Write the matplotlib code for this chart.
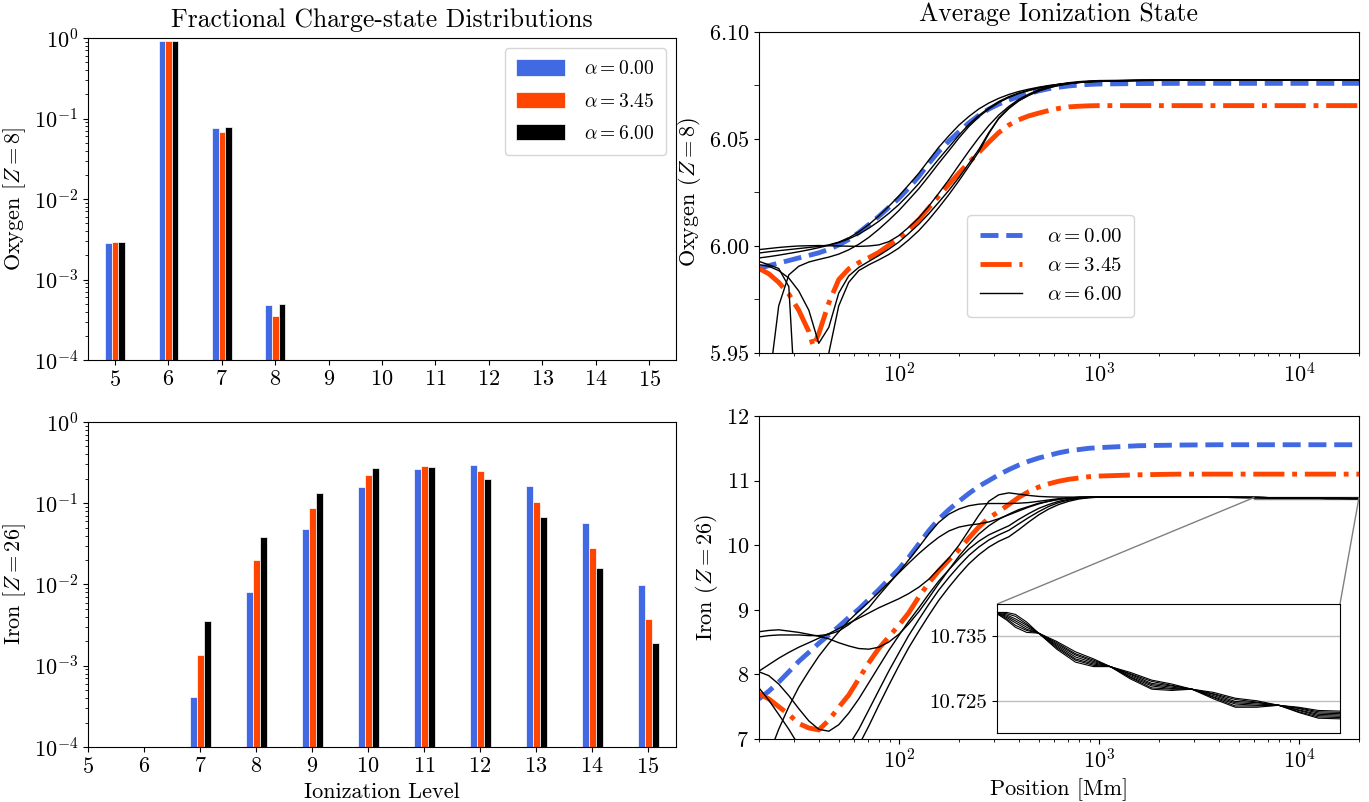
import matplotlib
matplotlib.use("Agg")
import matplotlib.pyplot as plt
from matplotlib.ticker import MultipleLocator, NullLocator, FixedLocator, FixedFormatter
from mpl_toolkits.axes_grid1.inset_locator import mark_inset

plt.rcParams['font.family'] = 'serif'
plt.rcParams['font.serif'] = ['cmr10']
plt.rcParams['mathtext.fontset'] = 'cm'
plt.rcParams['axes.formatter.use_mathtext'] = True

# --- charge-state fractions (ionization levels 5..15) ---
levels = [5, 6, 7, 8, 9, 10, 11, 12, 13, 14, 15]
o_frac_a0 = [2.85e-3, 0.927, 0.076, 4.8e-4, 0, 0, 0, 0, 0, 0, 0]
o_frac_a345 = [2.93e-3, 0.927, 0.068, 3.5e-4, 0, 0, 0, 0, 0, 0, 0]
o_frac_a6 = [2.93e-3, 0.927, 0.078, 4.9e-4, 0, 0, 0, 0, 0, 0, 0]
fe_frac_a0 = [0, 0, 4.1e-4, 8.0e-3, 0.0477, 0.157, 0.261, 0.293, 0.162, 0.0566, 0.0098]
fe_frac_a345 = [0, 0, 1.34e-3, 0.0198, 0.0866, 0.221, 0.285, 0.247, 0.103, 0.0279, 0.00373]
fe_frac_a6 = [0, 0, 3.6e-3, 0.038, 0.132, 0.269, 0.277, 0.197, 0.067, 0.0158, 0.00189]

alpha_labels = [r'$\alpha = 0.00$', r'$\alpha = 3.45$', r'$\alpha = 6.00$']
colors = ['royalblue', 'orangered', 'black']

# --- positions [Mm] ---
grid_x = [20, 22.4, 25.1, 28.2, 31.6, 35.5, 39.8, 44.7, 50.1, 56.2, 63.1, 70.8, 79.4,
          89.1, 100, 112, 126, 141, 158, 178, 200, 224, 251, 282, 316, 355, 398, 447,
          501, 562, 631, 708, 794, 891, 1000, 1585, 2512, 3981]
far_x = [10000, 20000]
tail_x = [6000, 6210, 6400, 6660, 6940, 7400, 7900, 8420, 8930, 9580, 10330, 11080,
          11890, 12830, 13850, 14940, 16130, 17290, 18540, 20000]
o_orange_x = [20, 22.4, 25.1, 28.2, 31.6, 35.5, 37.4, 39.8, 44.7, 50.1, 56.2, 63.1, 70.8,
              79.4, 89.1, 100, 112, 126, 141, 158, 178, 200, 224, 251, 282, 316, 355,
              398, 447, 501, 562, 631, 708, 794, 891, 1000, 1585, 2512, 3981, 10000, 20000]

# --- oxygen average ionization state ---
o_avg_a0 = [5.9895, 5.9908, 5.9920, 5.9932, 5.9944, 5.9956, 5.9968, 5.9984, 6.0005, 6.0030,
            6.0063, 6.0100, 6.0138, 6.0180, 6.0222, 6.0270, 6.0325, 6.0385, 6.0440, 6.0490,
            6.0534, 6.0575, 6.0610, 6.0640, 6.0663, 6.0682, 6.0698, 6.0712, 6.0725, 6.0735,
            6.0742, 6.0748, 6.0752, 6.0755, 6.0757, 6.0759, 6.0760, 6.0760, 6.0760, 6.0760]
o_avg_a345 = [5.9895, 5.9870, 5.9830, 5.9775, 5.9700, 5.9600, 5.9531, 5.9590, 5.9734, 5.9843,
              5.9893, 5.9922, 5.9945, 5.9970, 6.0003, 6.0035, 6.0077, 6.0123, 6.0177, 6.0232,
              6.0288, 6.0341, 6.0390, 6.0437, 6.0485, 6.0530, 6.0565, 6.0590, 6.0608, 6.0621,
              6.0633, 6.0643, 6.0650, 6.0653, 6.0655, 6.0656, 6.0656, 6.0656, 6.0656, 6.0656,
              6.0656]
o_avg_a6 = [
    [5.9983, 5.9988, 5.9993, 5.9997, 6.0000, 6.0001, 6.0002, 6.0001, 6.0000, 5.9999,
     5.9998, 6.0000, 6.0005, 6.0020, 6.0048, 6.0087, 6.0132, 6.0185, 6.0245, 6.0310,
     6.0378, 6.0443, 6.0505, 6.0563, 6.0612, 6.0652, 6.0685, 6.0710, 6.0730, 6.0745,
     6.0756, 6.0763, 6.0768, 6.0771, 6.0773, 6.0775, 6.0776, 6.0776, 6.0776, 6.0776],
    [5.9967, 5.9973, 5.9978, 5.9983, 5.9988, 5.9993, 5.9998, 6.0005, 6.0018, 6.0038,
     6.0066, 6.0100, 6.0140, 6.0185, 6.0233, 6.0285, 6.0340, 6.0400, 6.0460, 6.0515,
     6.0565, 6.0605, 6.0640, 6.0668, 6.0690, 6.0708, 6.0722, 6.0733, 6.0742, 6.0750,
     6.0756, 6.0761, 6.0765, 6.0768, 6.0770, 6.0774, 6.0776, 6.0776, 6.0776, 6.0776],
    [5.9944, 5.9950, 5.9957, 5.9965, 5.9973, 5.9982, 5.9992, 6.0003, 6.0016, 6.0033,
     6.0055, 6.0083, 6.0115, 6.0152, 6.0193, 6.0240, 6.0292, 6.0348, 6.0405, 6.0462,
     6.0518, 6.0568, 6.0610, 6.0645, 6.0675, 6.0698, 6.0715, 6.0728, 6.0740, 6.0748,
     6.0755, 6.0760, 6.0764, 6.0767, 6.0769, 6.0773, 6.0775, 6.0776, 6.0776, 6.0776],
    [5.9000, 5.9350, 5.9720, 5.9865, 5.9905, 5.9925, 5.9937, 5.9948, 5.9962, 5.9982,
     6.0008, 6.0040, 6.0078, 6.0120, 6.0165, 6.0215, 6.0268, 6.0325, 6.0385, 6.0445,
     6.0505, 6.0558, 6.0603, 6.0640, 6.0670, 6.0694, 6.0712, 6.0726, 6.0738, 6.0747,
     6.0754, 6.0760, 6.0764, 6.0767, 6.0769, 6.0773, 6.0775, 6.0776, 6.0776, 6.0776],
    [5.9928, 5.9912, 5.9895, 5.9810, 5.9000, 5.8800, 5.9100, 5.9500, 5.9720, 5.9830,
     5.9885, 5.9912, 5.9935, 5.9960, 5.9990, 6.0028, 6.0072, 6.0122, 6.0178, 6.0240,
     6.0305, 6.0372, 6.0440, 6.0525, 6.0598, 6.0645, 6.0680, 6.0705, 6.0725, 6.0740,
     6.0751, 6.0759, 6.0765, 6.0769, 6.0771, 6.0774, 6.0776, 6.0776, 6.0776, 6.0776],
    [5.9913, 5.9905, 5.9885, 5.9850, 5.9790, 5.9700, 5.9545, 5.9620, 5.9780, 5.9860,
     5.9900, 5.9928, 5.9955, 5.9985, 6.0018, 6.0058, 6.0102, 6.0150, 6.0203, 6.0260,
     6.0320, 6.0385, 6.0450, 6.0530, 6.0595, 6.0642, 6.0678, 6.0704, 6.0724, 6.0739,
     6.0750, 6.0758, 6.0764, 6.0768, 6.0771, 6.0774, 6.0776, 6.0776, 6.0776, 6.0776],
]

# --- iron average ionization state ---
fe_avg_a0 = [7.62, 7.74, 7.88, 8.04, 8.20, 8.34, 8.48, 8.61, 8.74, 8.88, 9.01, 9.16, 9.31,
             9.47, 9.63, 9.81, 10.02, 10.22, 10.40, 10.55, 10.68, 10.80, 10.91, 11.00,
             11.09, 11.17, 11.24, 11.30, 11.35, 11.39, 11.43, 11.46, 11.48, 11.50, 11.51,
             11.54, 11.55, 11.555, 11.555, 11.555]
fe_avg_a345 = [7.70, 7.62, 7.50, 7.38, 7.24, 7.17, 7.14, 7.29, 7.49, 7.68, 7.93, 8.18, 8.40,
               8.58, 8.76, 8.95, 9.20, 9.41, 9.60, 9.77, 9.93, 10.11, 10.28, 10.42, 10.52,
               10.63, 10.74, 10.83, 10.90, 10.95, 10.99, 11.02, 11.04, 11.06, 11.07, 11.09,
               11.10, 11.10, 11.10, 11.10]
fe_avg_a6 = [
    [8.05, 8.15, 8.25, 8.34, 8.42, 8.49, 8.56, 8.63, 8.71, 8.79, 8.87, 8.95, 9.03, 9.10,
     9.17, 9.25, 9.35, 9.47, 9.63, 9.80, 10.00, 10.23, 10.46, 10.68, 10.78, 10.81, 10.79,
     10.77, 10.755, 10.748, 10.745, 10.744, 10.744, 10.745, 10.746, 10.747, 10.745, 10.742,
     10.7385, 10.7375, 10.7364, 10.7356, 10.7355, 10.7342, 10.7326, 10.7315, 10.7303,
     10.7284, 10.7268, 10.7266, 10.7268, 10.7263, 10.7254, 10.7250, 10.7243, 10.7232,
     10.7223, 10.7222],
    [8.58, 8.60, 8.61, 8.61, 8.61, 8.60, 8.60, 8.62, 8.67, 8.77, 8.90, 9.03, 9.22, 9.40,
     9.58, 9.77, 9.97, 10.17, 10.35, 10.48, 10.56, 10.61, 10.635, 10.645, 10.645, 10.645,
     10.65, 10.66, 10.68, 10.70, 10.72, 10.73, 10.74, 10.743, 10.745, 10.747, 10.745, 10.742,
     10.7385, 10.7377, 10.7367, 10.7359, 10.7355, 10.7340, 10.7323, 10.7313, 10.7303,
     10.7286, 10.7270, 10.7268, 10.7268, 10.7261, 10.7252, 10.7248, 10.7243, 10.7233,
     10.7225, 10.7224],
    [8.66, 8.68, 8.69, 8.67, 8.65, 8.62, 8.59, 8.55, 8.49, 8.44, 8.40, 8.39, 8.42, 8.50,
     8.62, 8.78, 8.97, 9.18, 9.40, 9.62, 9.83, 10.01, 10.17, 10.30, 10.40, 10.48, 10.55,
     10.60, 10.65, 10.68, 10.71, 10.73, 10.74, 10.743, 10.745, 10.747, 10.745, 10.742,
     10.7386, 10.7379, 10.7371, 10.7361, 10.7355, 10.7338, 10.7321, 10.7311, 10.7303,
     10.7287, 10.7273, 10.7269, 10.7268, 10.7260, 10.7249, 10.7247, 10.7243, 10.7235,
     10.7227, 10.7226],
    [6.30, 6.75, 7.15, 7.50, 7.80, 8.05, 8.28, 8.48, 8.66, 8.83, 8.98, 9.12, 9.27, 9.42,
     9.57, 9.72, 9.87, 10.00, 10.12, 10.22, 10.28, 10.31, 10.33, 10.36, 10.41, 10.47, 10.53,
     10.59, 10.64, 10.68, 10.71, 10.73, 10.74, 10.744, 10.745, 10.747, 10.745, 10.742,
     10.7386, 10.7381, 10.7374, 10.7364, 10.7355, 10.7336, 10.7318, 10.7309, 10.7303,
     10.7289, 10.7275, 10.7271, 10.7268, 10.7258, 10.7247, 10.7245, 10.7243, 10.7236,
     10.7229, 10.7228],
    [8.04, 7.98, 7.85, 7.67, 7.47, 7.28, 7.15, 7.12, 7.22, 7.40, 7.62, 7.87, 8.12, 8.37,
     8.60, 8.82, 9.03, 9.24, 9.44, 9.62, 9.79, 9.94, 10.06, 10.16, 10.23, 10.30, 10.40,
     10.49, 10.57, 10.63, 10.68, 10.71, 10.73, 10.74, 10.745, 10.747, 10.745, 10.742,
     10.7386, 10.7383, 10.7377, 10.7367, 10.7355, 10.7334, 10.7315, 10.7307, 10.7303,
     10.7291, 10.7277, 10.7273, 10.7268, 10.7256, 10.7245, 10.7243, 10.7243, 10.7238,
     10.7231, 10.7230],
    [7.79, 7.60, 7.38, 7.15, 6.90, 6.70, 6.60, 6.60, 6.65, 6.90, 7.15, 7.45, 7.75, 8.05,
     8.33, 8.60, 8.85, 9.08, 9.30, 9.50, 9.68, 9.84, 9.97, 10.08, 10.16, 10.23, 10.33,
     10.43, 10.52, 10.60, 10.66, 10.70, 10.725, 10.738, 10.744, 10.747, 10.745, 10.742,
     10.7387, 10.7385, 10.7381, 10.7369, 10.7355, 10.7332, 10.7313, 10.7305, 10.7303,
     10.7292, 10.7280, 10.7274, 10.7268, 10.7255, 10.7242, 10.7242, 10.7243, 10.7239,
     10.7233, 10.7232],
    [6.00, 6.10, 6.20, 6.30, 6.40, 6.50, 6.60, 6.68, 6.75, 6.82, 6.90, 7.20, 7.52, 7.83,
     8.13, 8.41, 8.67, 8.91, 9.14, 9.35, 9.54, 9.71, 9.85, 9.97, 10.06, 10.13, 10.24,
     10.36, 10.47, 10.56, 10.63, 10.68, 10.715, 10.735, 10.743, 10.747, 10.745, 10.742,
     10.7387, 10.7387, 10.7384, 10.7372, 10.7355, 10.7330, 10.7310, 10.7303, 10.7303,
     10.7294, 10.7282, 10.7276, 10.7268, 10.7253, 10.7240, 10.7240, 10.7243, 10.7240,
     10.7235, 10.7234],
]

fig = plt.figure(figsize=(13.69, 8.02), dpi=100)
ax_o = fig.add_axes([0.0643, 0.5511, 0.4295, 0.4015])
ax_fe = fig.add_axes([0.0643, 0.0686, 0.4295, 0.4052])
ax_oa = fig.add_axes([0.5544, 0.5599, 0.4383, 0.4002])
ax_fa = fig.add_axes([0.5544, 0.0786, 0.4383, 0.4027])
axins = fig.add_axes([0.7283, 0.0860, 0.2505, 0.1608])

TICK = 16
LABEL = 16

# bar charts
offsets = [-0.12, 0.005, 0.13]
for ax, series in [(ax_o, [o_frac_a0, o_frac_a345, o_frac_a6]),
                   (ax_fe, [fe_frac_a0, fe_frac_a345, fe_frac_a6])]:
    ax.set_yscale('log')
    for k, vals in enumerate(series):
        xs = [lv + offsets[k] for lv, v in zip(levels, vals) if v > 0]
        ys = [v for v in vals if v > 0]
        ax.bar(xs, ys, width=0.122, color=colors[k], edgecolor='white',
               linewidth=0.5, label=alpha_labels[k])
    ax.set_ylim(1e-4, 1)
    ax.set_xticks(levels)
    ax.tick_params(labelsize=TICK)

ax_o.set_xlim(4.5, 15.5)
ax_fe.set_xlim(5, 15.5)
ax_o.set_ylabel(r'Oxygen [$Z = 8$]', fontsize=LABEL)
ax_fe.set_ylabel(r'Iron [$Z = 26$]', fontsize=LABEL)
ax_fe.set_xlabel('Ionization Level', fontsize=LABEL)
ax_o.set_title('Fractional Charge-state Distributions', fontsize=18.5, pad=8)
ax_o.legend(loc='upper right', fontsize=14, handlelength=2.5, handleheight=0.9,
            labelspacing=0.7, handletextpad=1.0, borderpad=0.6)

# average ionization state
ax_oa.plot(grid_x + far_x, o_avg_a0, '--', color='royalblue', lw=3.5, label=alpha_labels[0])
ax_oa.plot(o_orange_x, o_avg_a345, '-.', color='orangered', lw=3.5, label=alpha_labels[1])
for j, ys in enumerate(o_avg_a6):
    ax_oa.plot(grid_x + far_x, ys, '-', color='black', lw=1.0,
               label=alpha_labels[2] if j == 0 else None)

ax_fa.plot(grid_x + far_x, fe_avg_a0, '--', color='royalblue', lw=3.5)
ax_fa.plot(grid_x + far_x, fe_avg_a345, '-.', color='orangered', lw=3.5)
for ys in fe_avg_a6:
    ax_fa.plot(grid_x + tail_x, ys, '-', color='black', lw=1.0)
    axins.plot(grid_x + tail_x, ys, '-', color='black', lw=0.8)

for ax in (ax_oa, ax_fa):
    ax.set_xscale('log')
    ax.set_xlim(20, 2e4)
    ax.tick_params(labelsize=TICK)

ax_oa.set_ylim(5.95, 6.10)
ax_oa.yaxis.set_major_locator(MultipleLocator(0.05))
ax_oa.yaxis.set_minor_locator(MultipleLocator(0.025))
ax_oa.tick_params(axis='y', which='minor', length=3.5)
ax_oa.set_ylabel(r'Oxygen ($Z = 8$)', fontsize=LABEL)
ax_oa.set_title('Average Ionization State', fontsize=18.5, pad=8)
ax_oa.legend(loc='lower left', bbox_to_anchor=(0.33, 0.08), fontsize=15,
             handletextpad=1.2, borderpad=0.6)

ax_fa.set_ylim(7, 12)
ax_fa.set_ylabel(r'Iron ($Z = 26$)', fontsize=LABEL)
ax_fa.set_xlabel('Position [Mm]', fontsize=LABEL)

# zoom on the converged tail
axins.set_xscale('log')
axins.set_xlim(6000, 20000)
axins.set_ylim(10.72, 10.74)
axins.xaxis.set_major_locator(NullLocator())
axins.xaxis.set_minor_locator(NullLocator())
axins.yaxis.set_major_locator(FixedLocator([10.725, 10.735]))
axins.yaxis.set_major_formatter(FixedFormatter(['10.725', '10.735']))
axins.tick_params(labelsize=15)
axins.grid(axis='y', color='0.75', lw=1)
mark_inset(ax_fa, axins, loc1=1, loc2=2, fc='none', ec='0.5', lw=1)

fig.savefig('out.png', dpi=100)
